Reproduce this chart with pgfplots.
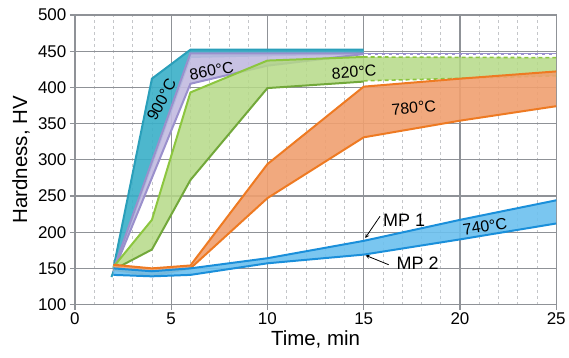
\documentclass[border=0pt]{standalone}
\usepackage{pgfplots}
\pgfplotsset{compat=1.18}
\usepackage{fontspec}
\setmainfont{Liberation Sans}
\definecolor{gridgray}{HTML}{8F9297}
\definecolor{mingray}{HTML}{C4C6C9}
\definecolor{blueL}{HTML}{1A8FDA}
\definecolor{blueF}{HTML}{6CC0EE}
\definecolor{orangeL}{HTML}{EE7A22}
\definecolor{orangeF}{HTML}{F0A070}
\definecolor{greenL}{HTML}{8CC63F}
\definecolor{greenD}{HTML}{72A83A}
\definecolor{greenF}{HTML}{B5D987}
\definecolor{purpleL}{HTML}{9A90CC}
\definecolor{purpleF}{HTML}{C2BAE0}
\definecolor{tealL}{HTML}{2A9FBA}
\definecolor{tealF}{HTML}{3AAFC8}
\begin{document}
\begin{tikzpicture}
\begin{axis}[
  width=482pt, height=290pt, scale only axis,
  xmin=0, xmax=25, ymin=100, ymax=500,
  xtick={0,5,...,25}, ytick={100,150,...,500},
  minor x tick num=4,
  grid=both,
  major grid style={draw=gridgray, line width=1.3pt},
  minor grid style={draw=mingray, dashed, line width=0.6pt},
  axis line style={draw=gridgray, line width=1.4pt},
  tick style={draw=gridgray, line width=1.3pt},
  major tick length=5pt, minor tick length=0pt,
  tick align=outside, xtick pos=bottom, ytick pos=left,
  tick label style={font=\fontsize{17}{20}\selectfont},
  /pgf/number format/assume math mode=true,
  xlabel={Time, min}, ylabel={Hardness, HV},
  label style={font=\fontsize{20.5}{24}\selectfont},
  xlabel style={at={(axis description cs:0.5,-0.121)}, anchor=center},
  ylabel style={at={(axis description cs:-0.112,0.5)}, anchor=center},
  clip=false,
]
\path (rel axis cs:-0.1556,-0.1828) rectangle (rel axis cs:1.0249,1.0517);
% 900 C
\addplot[fill=tealF, fill opacity=0.9, draw=none] coordinates {(2,150)(4,412)(6,452)(15,452)(15,447)(6,442)(1.9,138)} --cycle;
\addplot[tealL, line width=2pt] coordinates {(2,150)(4,412)(6,452)(15,452)};
\addplot[tealL, line width=2pt] coordinates {(1.9,138)(6,442)(15,447)};
% 860 C
\addplot[fill=purpleF, fill opacity=0.9, draw=none] coordinates {(2,148)(6,447)(15,447)(15,446)(10,430)(6,405)(2,145)} --cycle;
\addplot[purpleL, line width=2pt] coordinates {(2,148)(6,447)(15,447)};
\addplot[purpleL, line width=2pt] coordinates {(2,145)(6,405)(10,430)(15,446)};
\addplot[purpleL, line width=2pt] coordinates {(15,446)(25,446)};
\addplot[white, line width=1pt, dash pattern=on 4pt off 3pt] coordinates {(15,446)(25,446)};
% 820 C
\addplot[fill=greenF, fill opacity=0.85, draw=none] coordinates {(2,152)(4,217)(6,393)(10,437)(15,442)(25,441)(25,416)(15,409)(10,399)(6,272)(4,176)(2,148)} --cycle;
\addplot[greenL, line width=2pt] coordinates {(2,152)(4,217)(6,393)(10,437)(15,442)};
\addplot[greenD, line width=2pt] coordinates {(2,148)(4,176)(6,272)(10,399)(15,408)};
\addplot[greenL, line width=1.6pt, dash pattern=on 4pt off 3pt] coordinates {(15,442)(25,441)};
\addplot[greenL, line width=1.6pt, dash pattern=on 4pt off 3pt] coordinates {(15,409)(25,416)};
% 780 C
\addplot[fill=orangeF, fill opacity=0.9, draw=none] coordinates {(2,155)(4,150)(6,154)(10,294)(15,401)(20,412)(25,422)(25,374)(20,354)(15,331)(10,247)(6,150)(4,140)(2,148)} --cycle;
\addplot[orangeL, line width=2pt] coordinates {(2,155)(4,150)(6,154)(10,294)(15,401)(20,412)(25,422)};
\addplot[orangeL, line width=2pt] coordinates {(2,148)(4,140)(6,150)(10,247)(15,331)(20,354)(25,374)};
% 740 C
\addplot[fill=blueF, fill opacity=0.9, draw=none] coordinates {(2,150)(4,146)(6,150)(10,164)(15,188)(20,217)(25,244)(25,212)(20,190)(15,169)(10,157)(6,141)(4,139)(2,141)} --cycle;
\addplot[blueL, line width=2pt] coordinates {(2,150)(4,146)(6,150)(10,164)(15,188)(20,217)(25,244)};
\addplot[blueL, line width=2pt] coordinates {(2,141)(4,139)(6,141)(10,157)(15,169)(20,190)(25,212)};
% labels
\node[font=\fontsize{16}{18}\selectfont, rotate=62, inner sep=0pt] at (axis cs:4.5,383) {900°C};
\node[font=\fontsize{16}{18}\selectfont, rotate=10, inner sep=0pt] at (axis cs:7.1,423) {860°C};
\node[font=\fontsize{16}{18}\selectfont, rotate=4, inner sep=0pt] at (axis cs:14.5,421) {820°C};
\node[font=\fontsize{16}{18}\selectfont, rotate=5, inner sep=0pt] at (axis cs:17.6,372) {780°C};
\node[font=\fontsize{16}{18}\selectfont, rotate=9, inner sep=0pt] at (axis cs:21.3,208) {740°C};
\node[font=\fontsize{18}{20}\selectfont] at (axis cs:17.1,217) {MP 1};
\node[font=\fontsize{18}{20}\selectfont] at (axis cs:17.8,157) {MP 2};
\draw[-stealth, line width=0.8pt] (axis cs:15.85,222) -- (axis cs:15.08,192);
\draw[-stealth, line width=0.8pt] (axis cs:16.3,155) -- (axis cs:15.1,168);
\end{axis}
\end{tikzpicture}
\end{document}
